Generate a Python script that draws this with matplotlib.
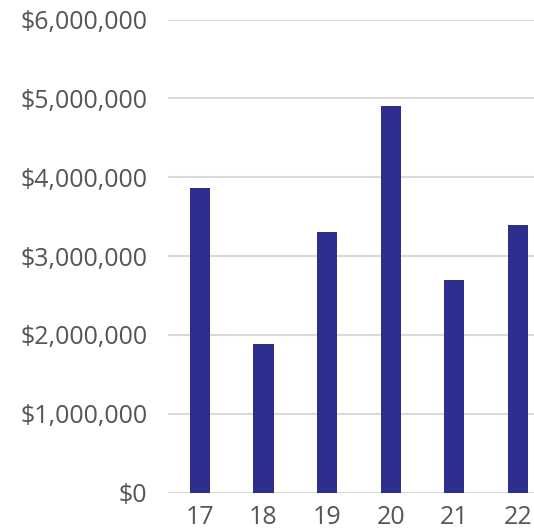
import matplotlib.pyplot as plt
from matplotlib.ticker import FuncFormatter

years = ['17', '18', '19', '20', '21', '22']
values = [3860000, 1880000, 3300000, 4900000, 2700000, 3390000]
y_ticks = [0, 1000000, 2000000, 3000000, 4000000, 5000000, 6000000]

plt.rcParams['font.family'] = ['Open Sans', 'DejaVu Sans']

fig = plt.figure(figsize=(5.34, 5.32), dpi=100)
ax = fig.add_axes([168 / 534, 1 - 492.7 / 532, 1 - 168 / 534, (492.7 - 19.5) / 532])

x = range(len(years))
ax.bar(x, values, width=0.315, color='#2e2e8f', zorder=3)

ax.set_ylim(0, 6000000)
ax.set_xlim(-0.5, 5.25)
ax.set_yticks(y_ticks)
ax.yaxis.set_major_formatter(FuncFormatter(lambda v, p: f'${v:,.0f}'))
ax.set_xticks(list(x))
ax.set_xticklabels(years)
ax.grid(axis='y', color='#d9d9d9', linewidth=1.5, zorder=0)
ax.set_axisbelow(True)
for s in ax.spines.values():
    s.set_visible(False)
ax.tick_params(axis='y', length=0, pad=15, labelsize=18, labelcolor='#555555')
ax.tick_params(axis='x', length=0, pad=9, labelsize=18, labelcolor='#555555')

fig.savefig('out.png', dpi=100)
